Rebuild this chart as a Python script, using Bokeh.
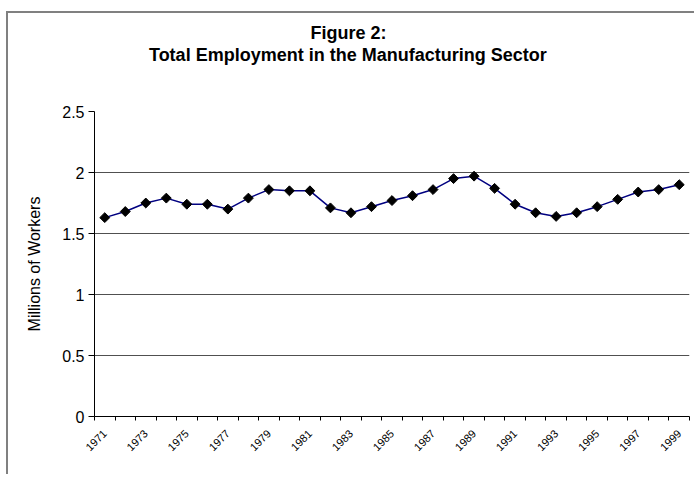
import math
from bokeh.plotting import figure
from bokeh.models import FixedTicker, NumeralTickFormatter, Range1d, Title
from bokeh.embed import file_html
from bokeh.resources import INLINE

# ---- data ----
years = list(range(1971, 2000))
employment = [1.63, 1.68, 1.75, 1.79, 1.74, 1.74, 1.70, 1.79, 1.86, 1.85,
              1.85, 1.71, 1.67, 1.72, 1.77, 1.81, 1.86, 1.95, 1.97, 1.87,
              1.74, 1.67, 1.64, 1.67, 1.72, 1.78, 1.84, 1.86, 1.90]
y_ticks = [0, 0.5, 1, 1.5, 2, 2.5]
label_years = years[::2]
title_lines = ["Figure 2:", "Total Employment in the Manufacturing Sector"]
y_label = "Millions of Workers"

FONT = "Liberation Sans"

p = figure(frame_width=595, frame_height=305,
           min_border_left=86, min_border_right=5, min_border_top=98, min_border_bottom=58,
           x_range=Range1d(years[0] - 0.5, years[-1] + 0.5),
           y_range=Range1d(y_ticks[0], y_ticks[-1]),
           output_backend="svg", toolbar_location=None, tools="",
           title=None)
p.margin = (11, 0, 0, 6)
p.styles = {"border-left": "2px solid #808080", "border-top": "2px solid #808080"}
p.background_fill_color = "white"
p.border_fill_color = "white"
p.outline_line_color = None

# x axis: minor ticks at category boundaries, labels at every other category
xa = p.xaxis[0]
xa.ticker = FixedTicker(ticks=label_years,
                        minor_ticks=[y - 0.5 for y in years] + [years[-1] + 0.5])
xa.major_tick_in = 0
xa.major_tick_out = 0
xa.minor_tick_in = 0
xa.minor_tick_out = 4
xa.minor_tick_line_color = "black"
xa.axis_line_color = "black"
xa.major_label_orientation = math.pi / 4
xa.major_label_text_font = FONT
xa.major_label_text_font_size = "11px"
xa.major_label_text_color = "black"
xa.major_label_standoff = 11

ya = p.yaxis[0]
ya.ticker = FixedTicker(ticks=y_ticks, minor_ticks=[])
ya.formatter = NumeralTickFormatter(format="0.[0]")
ya.major_tick_in = 0
ya.major_tick_out = 6
ya.major_tick_line_color = "black"
ya.axis_line_color = "black"
ya.major_label_text_font = FONT
ya.major_label_text_font_size = "16px"
ya.major_label_text_color = "black"
ya.major_label_standoff = 4
ya.axis_label = y_label
ya.axis_label_text_font = FONT
ya.axis_label_text_font_size = "16px"
ya.axis_label_text_font_style = "normal"
ya.axis_label_text_color = "black"
ya.axis_label_standoff = 16

p.xgrid.grid_line_color = None
p.ygrid.grid_line_color = "#505050"
p.ygrid.grid_line_width = 1
p.ygrid.ticker = FixedTicker(ticks=y_ticks)

p.line(years, employment, line_color="#000080", line_width=1.5)
p.scatter(years, employment, marker="square", angle=math.pi / 4, size=7,
          fill_color="black", line_color="black")

# two-line chart title, centred on the whole chart area (not the frame)
TSIZE = 18
title_em = [4.223, 22.17]  # approximate Arial-bold widths (em) for centring
center_x = 340 - 86  # relative to frame left

# spacer between frame and title block
p.add_layout(Title(text=" ", standoff=44, text_font_size="1px"), "above")
p.add_layout(Title(text=title_lines[1], align="left",
                   offset=center_x - title_em[1] * TSIZE / 2, standoff=0,
                   text_font=FONT, text_font_size=f"{TSIZE}px",
                   text_font_style="bold", text_color="black"), "above")
p.add_layout(Title(text=title_lines[0], align="left",
                   offset=center_x - title_em[0] * TSIZE / 2, standoff=0,
                   text_font=FONT, text_font_size=f"{TSIZE}px",
                   text_font_style="bold", text_color="black"), "above")

open("out.html", "w").write(file_html(p, INLINE))
